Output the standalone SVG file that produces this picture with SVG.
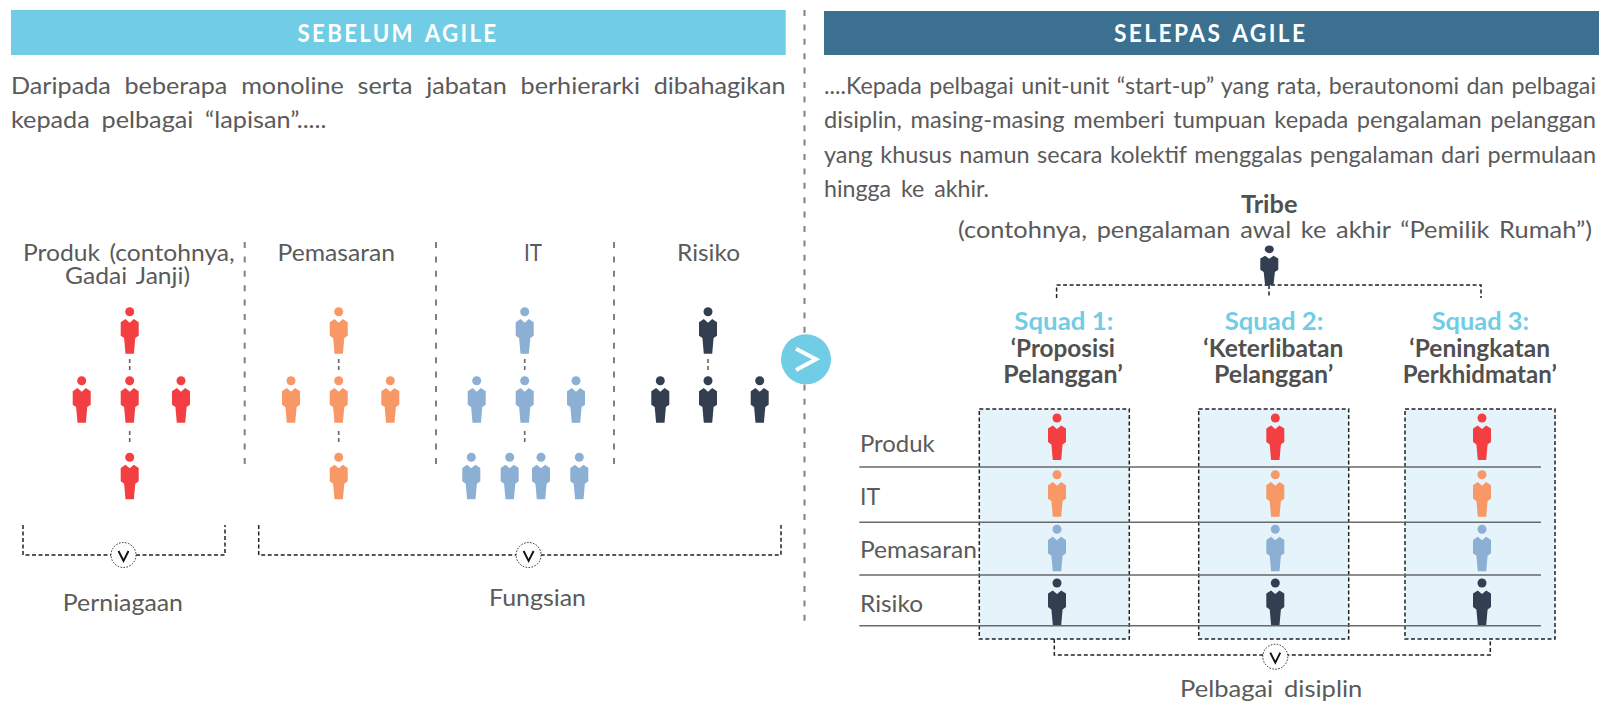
<svg xmlns="http://www.w3.org/2000/svg" width="1599" height="705" viewBox="0 0 1599 705">
<style>
text{font-family:"Lato","Open Sans","Liberation Sans",sans-serif;fill:#5a5a5a;font-size:24px}
.h{font-weight:700;fill:#fff;font-size:24px;letter-spacing:2.5px;word-spacing:3px}
.b{font-weight:700;fill:#505050}
.s{font-weight:700;fill:#70cde5}
.t{font-size:23.2px}
.r{fill:#f33f42}.o{fill:#f89867}.u{fill:#8cafd4}.d{fill:#333f50}
.main{fill:none;stroke:#808080;stroke-width:2;stroke-dasharray:6 8.4}
.tick{fill:none;stroke:#666;stroke-width:1.6;stroke-dasharray:4 3}
.br{fill:none;stroke:#222;stroke-width:1.5;stroke-dasharray:4 2.5}
.box{fill:#e5f3fb;stroke:#222;stroke-width:1.5;stroke-dasharray:4 2.5}
.rule{stroke:#6a6a6a;stroke-width:1.4;fill:none}
.cir{fill:#fff;stroke:#222;stroke-width:1;stroke-dasharray:1.5 1.5}
.v{fill:none;stroke:#111;stroke-width:1.9}
</style>
<defs>
<g id="p"><circle cx="0" cy="0" r="4.5"/><path d="M-9 10.6L-4.2 7.4L0 11L4.2 7.4L9 10.6V24L5.6 26.4L4.2 42H-4.2L-5.6 26.4L-9 24Z"/></g>
</defs>
<rect id="hdr-left" x="11" y="10" width="774.7" height="45" fill="#70cde5"/>
<rect id="hdr-right" x="824" y="11" width="775" height="44" fill="#3b7090"/>
<text class="h" x="297.5" y="41.7" textLength="201" lengthAdjust="spacingAndGlyphs">SEBELUM AGILE</text>
<text class="h" x="1114" y="41.7" textLength="193.5" lengthAdjust="spacingAndGlyphs">SELEPAS AGILE</text>

<text x="11" y="94" word-spacing="7" textLength="774.5" lengthAdjust="spacingAndGlyphs">Daripada beberapa monoline serta jabatan berhierarki dibahagikan</text>
<text x="11" y="127.7" word-spacing="5" textLength="315.5" lengthAdjust="spacingAndGlyphs">kepada pelbagai “lapisan”.....</text>
<text class="t" x="824" y="94" word-spacing="1.5" textLength="772" lengthAdjust="spacingAndGlyphs">....Kepada pelbagai unit-unit “start-up” yang rata, berautonomi dan pelbagai</text>
<text class="t" x="824" y="128" word-spacing="2.5" textLength="772" lengthAdjust="spacingAndGlyphs">disiplin, masing-masing memberi tumpuan kepada pengalaman pelanggan</text>
<text class="t" x="824" y="163" word-spacing="1.5" textLength="772" lengthAdjust="spacingAndGlyphs">yang khusus namun secara kolektif menggalas pengalaman dari permulaan</text>
<text x="824" y="196.7" word-spacing="4" textLength="165" lengthAdjust="spacingAndGlyphs">hingga ke akhir.</text>
<text class="b" x="1241" y="212.7" textLength="56.5" lengthAdjust="spacingAndGlyphs">Tribe</text>
<text x="958" y="238" word-spacing="3" textLength="634" lengthAdjust="spacingAndGlyphs">(contohnya, pengalaman awal ke akhir “Pemilik Rumah”)</text>

<text x="23" y="261" word-spacing="3" textLength="211.7" lengthAdjust="spacingAndGlyphs">Produk (contohnya,</text>
<text x="65" y="284.3" word-spacing="3" textLength="125" lengthAdjust="spacingAndGlyphs">Gadai Janji)</text>
<text x="277.5" y="261" textLength="117.5" lengthAdjust="spacingAndGlyphs">Pemasaran</text>
<text x="524" y="261" textLength="18" lengthAdjust="spacingAndGlyphs">IT</text>
<text x="677" y="261" textLength="63" lengthAdjust="spacingAndGlyphs">Risiko</text>

<g id="connectors">
<path class="main" d="M804.5 10V628"/>
<path class="main" d="M244.7 242V466M436 242V466M614 242V466"/>
<path class="tick" d="M129.7 359V372M129.7 431V444M338.7 359V372M338.7 431V444M524.7 359V372M524.7 431V444M708 359V372"/>
<path class="br" d="M23 525V555H225V525"/>
<path class="br" d="M258.7 525V555H781V525"/>
<path class="br" d="M1056.6 298V285H1481V298M1269 285V298"/>
</g>

<g id="per-1" class="r"><use href="#p" x="129.7" y="311.7"/></g>
<g id="per-2" class="r"><use href="#p" x="81.7" y="380.7"/></g>
<g id="per-3" class="r"><use href="#p" x="129.7" y="380.7"/></g>
<g id="per-4" class="r"><use href="#p" x="181" y="380.7"/></g>
<g id="per-5" class="r"><use href="#p" x="129.7" y="457.3"/></g>
<g id="pem-1" class="o"><use href="#p" x="338.7" y="311.7"/></g>
<g id="pem-2" class="o"><use href="#p" x="291" y="380.7"/></g>
<g id="pem-3" class="o"><use href="#p" x="338.7" y="380.7"/></g>
<g id="pem-4" class="o"><use href="#p" x="390.3" y="380.7"/></g>
<g id="pem-5" class="o"><use href="#p" x="338.7" y="457.3"/></g>
<g id="it-1" class="u"><use href="#p" x="524.7" y="311.7"/></g>
<g id="it-2" class="u"><use href="#p" x="476.7" y="380.7"/></g>
<g id="it-3" class="u"><use href="#p" x="524.7" y="380.7"/></g>
<g id="it-4" class="u"><use href="#p" x="576" y="380.7"/></g>
<g id="it-5" class="u"><use href="#p" x="471.3" y="457.3"/></g>
<g id="it-6" class="u"><use href="#p" x="509.7" y="457.3"/></g>
<g id="it-7" class="u"><use href="#p" x="541" y="457.3"/></g>
<g id="it-8" class="u"><use href="#p" x="579.3" y="457.3"/></g>
<g id="ris-1" class="d"><use href="#p" x="708" y="311.7"/></g>
<g id="ris-2" class="d"><use href="#p" x="660.3" y="380.7"/></g>
<g id="ris-3" class="d"><use href="#p" x="708" y="380.7"/></g>
<g id="ris-4" class="d"><use href="#p" x="759.7" y="380.7"/></g>

<g id="arrow"><circle cx="806" cy="359.3" r="25" fill="#70cde5"/><path d="M796 348.7L816 359.3L796 370" fill="none" stroke="#fff" stroke-width="4"/></g>

<g id="perniagaan-mark"><circle class="cir" cx="123.5" cy="555" r="12.5"/><path class="v" d="M118.5 551L123.5 561L128.5 551"/></g>
<g id="fungsian-mark"><circle class="cir" cx="528.6" cy="555" r="12.5"/><path class="v" d="M523.6 551L528.6 561L533.6 551"/></g>
<text x="62.8" y="610.7" textLength="120.2" lengthAdjust="spacingAndGlyphs">Perniagaan</text>
<text x="489" y="606" textLength="97" lengthAdjust="spacingAndGlyphs">Fungsian</text>

<g id="tribe" class="d"><use href="#p" transform="translate(1269.3 249.3) scale(1 .857)"/></g>
<text class="s" x="1014.3" y="330" textLength="99" lengthAdjust="spacingAndGlyphs">Squad 1:</text>
<text class="b" x="1010.7" y="356.7" textLength="104.3" lengthAdjust="spacingAndGlyphs">‘Proposisi</text>
<text class="b" x="1003.3" y="383.3" textLength="119.4" lengthAdjust="spacingAndGlyphs">Pelanggan’</text>
<text class="s" x="1224.7" y="330" textLength="98.6" lengthAdjust="spacingAndGlyphs">Squad 2:</text>
<text class="b" x="1203.3" y="356.7" textLength="140" lengthAdjust="spacingAndGlyphs">‘Keterlibatan</text>
<text class="b" x="1214" y="383.3" textLength="119.3" lengthAdjust="spacingAndGlyphs">Pelanggan’</text>
<text class="s" x="1431.7" y="330" textLength="97.3" lengthAdjust="spacingAndGlyphs">Squad 3:</text>
<text class="b" x="1409.3" y="356.7" textLength="140.7" lengthAdjust="spacingAndGlyphs">‘Peningkatan</text>
<text class="b" x="1402.7" y="383.3" textLength="154" lengthAdjust="spacingAndGlyphs">Perkhidmatan’</text>

<g id="squad-1"><rect class="box" x="979.3" y="409" width="150" height="230"/></g>
<g id="squad-2"><rect class="box" x="1198.7" y="409" width="150" height="230"/></g>
<g id="squad-3"><rect class="box" x="1405" y="409" width="150" height="230"/></g>
<path class="br" d="M1054.3 639V655H1490.3V639"/>

<g id="s1-r" class="r"><use href="#p" x="1057" y="418"/></g>
<g id="s2-r" class="r"><use href="#p" x="1275.3" y="418"/></g>
<g id="s3-r" class="r"><use href="#p" x="1482" y="418"/></g>
<g id="s1-o" class="o"><use href="#p" x="1057" y="474.7"/></g>
<g id="s2-o" class="o"><use href="#p" x="1275.3" y="474.7"/></g>
<g id="s3-o" class="o"><use href="#p" x="1482" y="474.7"/></g>
<g id="s1-u" class="u"><use href="#p" x="1057" y="529.3"/></g>
<g id="s2-u" class="u"><use href="#p" x="1275.3" y="529.3"/></g>
<g id="s3-u" class="u"><use href="#p" x="1482" y="529.3"/></g>
<g id="s1-d" class="d"><use href="#p" x="1057" y="583"/></g>
<g id="s2-d" class="d"><use href="#p" x="1275.3" y="583"/></g>
<g id="s3-d" class="d"><use href="#p" x="1482" y="583"/></g>

<path class="rule" d="M859.3 467H1541M859.3 522.3H1541M859.3 575H1541M859.3 625.7H1541"/>
<text x="860" y="451.7" textLength="74.7" lengthAdjust="spacingAndGlyphs">Produk</text>
<text x="860" y="505" textLength="20" lengthAdjust="spacingAndGlyphs">IT</text>
<text x="860" y="558.3" textLength="117" lengthAdjust="spacingAndGlyphs">Pemasaran</text>
<text x="860" y="611.7" textLength="63" lengthAdjust="spacingAndGlyphs">Risiko</text>

<g id="disiplin-mark"><circle class="cir" cx="1275.3" cy="656.7" r="12.5"/><path class="v" d="M1270.3 652.7L1275.3 662.7L1280.3 652.7"/></g>
<text x="1180" y="696.7" word-spacing="4" textLength="182.3" lengthAdjust="spacingAndGlyphs">Pelbagai disiplin</text>
</svg>
